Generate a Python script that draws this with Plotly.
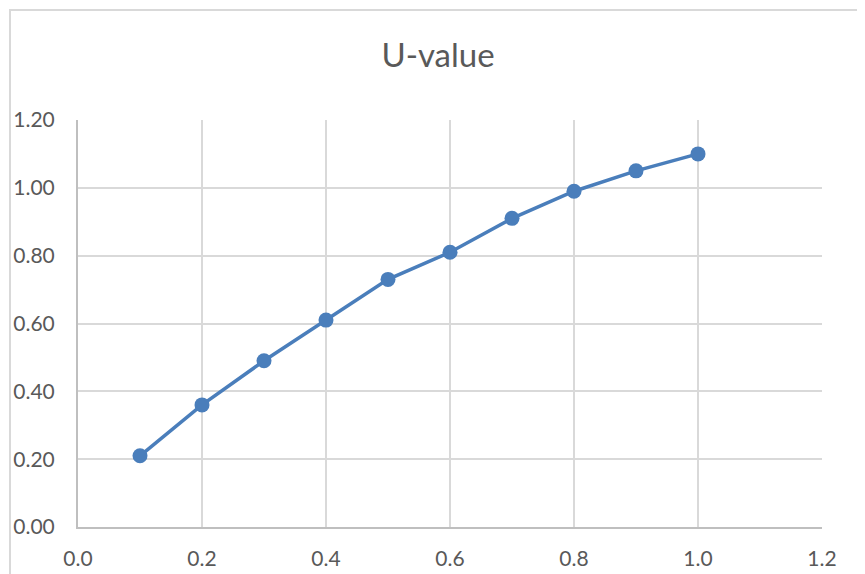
import plotly.graph_objects as go

x_values = [0.1, 0.2, 0.3, 0.4, 0.5, 0.6, 0.7, 0.8, 0.9, 1.0]
u_values = [0.21, 0.36, 0.49, 0.61, 0.73, 0.81, 0.91, 0.99, 1.05, 1.10]
title_text = "U-value"

blue = "#4a7ebb"
grey_text = "#595959"

# page body has an 8px margin; compensate so the plot lands where the reference is
fig = go.Figure()
fig.add_trace(go.Scatter(
    x=x_values, y=u_values, mode="lines+markers",
    line=dict(color=blue, width=3.5),
    marker=dict(color=blue, size=15),
    showlegend=False,
))

fig.update_layout(
    width=865, height=574,
    margin=dict(l=70, r=51, t=112, b=55),
    paper_bgcolor="white", plot_bgcolor="white",
    font=dict(family="Lato", color=grey_text, size=21),
    title=dict(text=title_text, x=430/865, xanchor="center", y=1-47/574, yanchor="middle",
               font=dict(size=33, color=grey_text, family="Lato"), automargin=False),
    xaxis=dict(range=[0, 1.2], dtick=0.2, tick0=0, tickformat=".1f",
               showgrid=True, gridcolor="#d9d9d9", gridwidth=2,
               showline=True, linecolor="#bfbfbf", linewidth=2,
               zeroline=False, ticks="", ticklabelstandoff=12, automargin=False),
    yaxis=dict(range=[0, 1.2], dtick=0.2, tick0=0, tickformat=".2f",
               showgrid=True, gridcolor="#d9d9d9", gridwidth=2,
               showline=True, linecolor="#bfbfbf", linewidth=2,
               zeroline=False, ticks="", ticklabelstandoff=17, automargin=False),
    shapes=[dict(type="rect", xref="paper", yref="paper",
                 x0=(10-78)/744, x1=1.2, y0=-0.3, y1=(527-10)/407,
                 line=dict(color="#d9d9d9", width=2), fillcolor="rgba(0,0,0,0)",
                 layer="below")],
)

fig.write_html("out.html")
